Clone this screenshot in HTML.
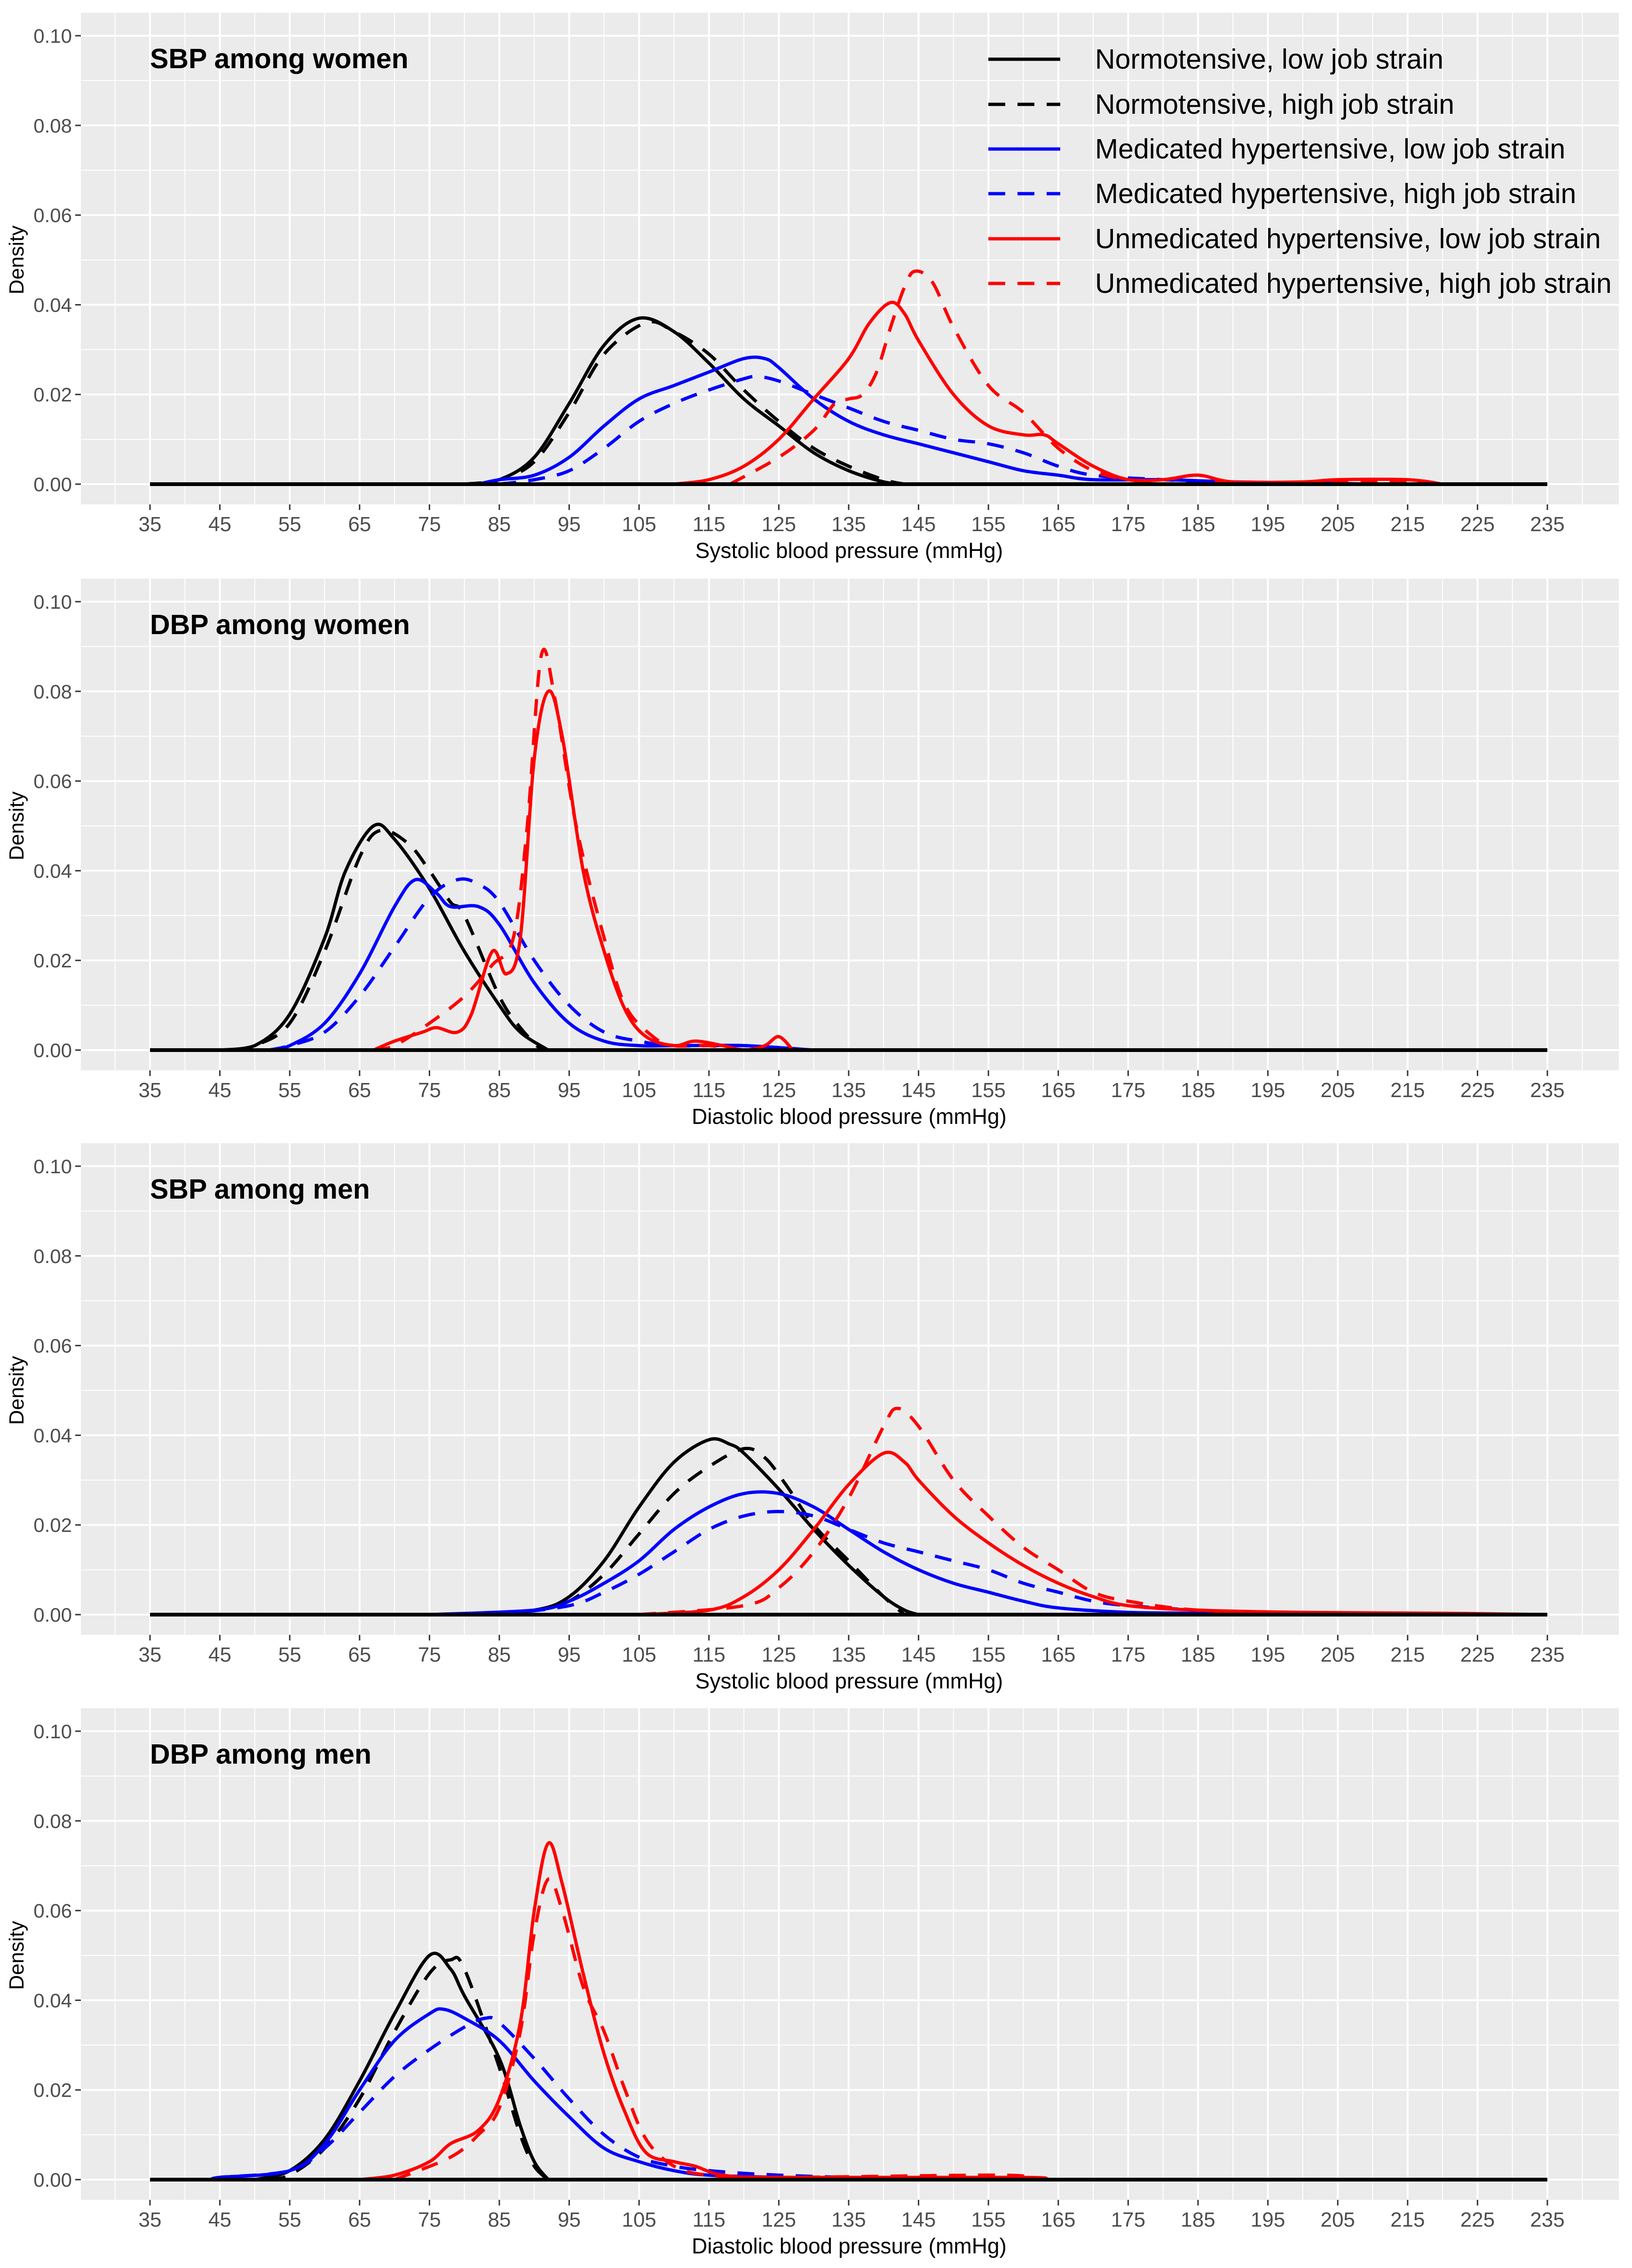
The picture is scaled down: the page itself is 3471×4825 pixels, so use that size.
<!DOCTYPE html>
<html><head><meta charset="utf-8">
<style>
html,body{margin:0;padding:0;background:#fff;}
svg{display:block;font-family:"Liberation Sans",sans-serif;}
</style></head>
<body>
<svg id="chart" width="3471" height="4825" viewBox="0 0 3471 4825" xmlns="http://www.w3.org/2000/svg"></svg>
<script>
// ---- data ----
const panelTitles = ["SBP among women","DBP among women","SBP among men","DBP among men"];
const xAxisTitles = ["Systolic blood pressure (mmHg)","Diastolic blood pressure (mmHg)","Systolic blood pressure (mmHg)","Diastolic blood pressure (mmHg)"];
const xTicks = [35,45,55,65,75,85,95,105,115,125,135,145,155,165,175,185,195,205,215,225,235];
const yTicks = [0,0.02,0.04,0.06,0.08,0.10];
const yTickLabels = ["0.00","0.02","0.04","0.06","0.08","0.10"];
const seriesNames = ["Normotensive, low job strain","Normotensive, high job strain","Medicated hypertensive, low job strain","Medicated hypertensive, high job strain","Unmedicated hypertensive, low job strain","Unmedicated hypertensive, high job strain"];

// Panel 1: SBP women  (each: [bp, density] pairs)
const p1NormLow = [[80,0],[85,0.001],[90,0.006],[95,0.018],[100,0.031],[105,0.037],[110,0.034],[115,0.027],[120,0.019],[125,0.013],[130,0.007],[135,0.003],[140,0.0005],[143,0]];
const p1NormHigh = [[80,0],[85,0.001],[90,0.005],[95,0.016],[100,0.029],[106,0.036],[110,0.034],[115,0.029],[120,0.021],[125,0.014],[130,0.008],[135,0.004],[140,0.001],[143,0]];
const p1MedLow = [[82,0],[85,0.001],[90,0.002],[95,0.006],[100,0.013],[105,0.019],[110,0.022],[115,0.025],[120,0.028],[123,0.028],[125,0.026],[130,0.019],[135,0.014],[140,0.011],[145,0.009],[150,0.007],[155,0.005],[160,0.003],[165,0.002],[170,0.001],[180,0.001],[190,0.0005],[200,0.0003],[210,0]];
const p1MedHigh = [[85,0],[90,0.001],[95,0.003],[100,0.008],[105,0.014],[110,0.018],[115,0.021],[120,0.0235],[122,0.024],[125,0.023],[130,0.02],[135,0.017],[140,0.014],[145,0.012],[150,0.01],[155,0.009],[160,0.007],[165,0.004],[170,0.002],[180,0.001],[190,0.0005],[200,0]];
const p1UnmedLow = [[110,0],[115,0.001],[120,0.004],[125,0.01],[130,0.019],[135,0.028],[138,0.036],[141,0.0405],[143,0.038],[145,0.032],[150,0.02],[155,0.013],[160,0.011],[163,0.011],[165,0.009],[170,0.004],[175,0.001],[180,0.001],[185,0.002],[190,0.0005],[200,0.0005],[205,0.001],[215,0.001],[220,0]];
const p1UnmedHigh = [[118,0],[125,0.006],[130,0.012],[133,0.018],[135,0.019],[137,0.02],[139,0.025],[141,0.035],[143,0.044],[144.5,0.0475],[147,0.045],[150,0.035],[155,0.022],[160,0.016],[165,0.008],[170,0.003],[175,0.001],[180,0.001],[185,0.002],[190,0.0005],[210,0.0005],[222,0]];

// Panel 2: DBP women
const p2NormLow = [[45,0],[50,0.001],[55,0.008],[60,0.025],[63,0.040],[67,0.050],[70,0.047],[75,0.036],[80,0.022],[85,0.010],[88,0.004],[92,0]];
const p2NormHigh = [[47,0],[50,0.001],[55,0.006],[60,0.022],[65,0.043],[68,0.049],[72,0.046],[75,0.040],[78,0.033],[80,0.030],[85,0.012],[88,0.005],[91,0]];
const p2MedLow = [[52,0],[55,0.001],[60,0.006],[65,0.017],[70,0.032],[73,0.038],[76,0.035],[78,0.032],[82,0.032],[85,0.028],[90,0.015],[95,0.006],[100,0.002],[105,0.001],[110,0.001],[120,0.001],[130,0]];
const p2MedHigh = [[52,0],[55,0.001],[60,0.004],[65,0.012],[70,0.023],[75,0.034],[79,0.038],[82,0.037],[85,0.033],[90,0.02],[95,0.01],[100,0.004],[105,0.002],[110,0.001],[120,0.001],[128,0]];
const p2UnmedLow = [[67,0],[70,0.002],[74,0.004],[76,0.005],[79,0.004],[81,0.008],[84,0.022],[86,0.017],[88,0.025],[90,0.065],[92,0.080],[94,0.07],[97,0.04],[100,0.022],[103,0.009],[106,0.003],[110,0.001],[113,0.002],[117,0.001],[120,0],[123,0.001],[125,0.003],[127,0]];
const p2UnmedHigh = [[67,0],[70,0.001],[75,0.006],[80,0.012],[84,0.019],[87,0.025],[89,0.05],[91,0.088],[93,0.078],[96,0.05],[100,0.025],[103,0.01],[107,0.003],[110,0.001],[115,0.001],[120,0]];

// Panel 3: SBP men
const p3NormLow = [[80,0],[90,0.001],[95,0.004],[100,0.012],[105,0.024],[110,0.034],[115,0.039],[118,0.038],[120,0.036],[125,0.028],[130,0.019],[135,0.011],[140,0.004],[143,0.001],[145,0]];
const p3NormHigh = [[82,0],[90,0.001],[95,0.003],[100,0.009],[105,0.018],[110,0.027],[115,0.033],[120,0.037],[123,0.035],[126,0.029],[130,0.02],[135,0.012],[140,0.004],[143,0]];
const p3MedLow = [[75,0],[90,0.001],[95,0.003],[100,0.007],[105,0.012],[110,0.019],[115,0.024],[120,0.027],[125,0.027],[130,0.024],[135,0.019],[140,0.014],[145,0.010],[150,0.007],[155,0.005],[160,0.003],[165,0.0015],[175,0.0005],[185,0.0003],[200,0]];
const p3MedHigh = [[85,0],[95,0.002],[100,0.005],[105,0.009],[110,0.014],[115,0.019],[120,0.022],[125,0.023],[130,0.022],[135,0.019],[140,0.016],[145,0.014],[150,0.012],[155,0.01],[160,0.007],[165,0.005],[170,0.003],[175,0.002],[185,0.001],[195,0.0005],[215,0]];
const p3UnmedLow = [[105,0],[115,0.001],[120,0.004],[125,0.01],[130,0.019],[135,0.029],[140,0.036],[143,0.034],[145,0.03],[150,0.022],[155,0.016],[160,0.011],[165,0.007],[170,0.004],[175,0.002],[185,0.001],[200,0.0005],[220,0.0003],[235,0]];
const p3UnmedHigh = [[105,0],[120,0.002],[125,0.006],[130,0.014],[135,0.026],[140,0.042],[142,0.046],[145,0.042],[150,0.03],[155,0.022],[160,0.015],[165,0.01],[170,0.005],[175,0.003],[185,0.001],[200,0.0005],[235,0]];

// Panel 4: DBP men
const p4NormLow = [[50,0],[55,0.002],[60,0.009],[65,0.022],[70,0.037],[75,0.050],[78,0.047],[80,0.041],[85,0.027],[88,0.012],[90,0.004],[92,0]];
const p4NormHigh = [[52,0],[55,0.001],[60,0.007],[65,0.018],[70,0.033],[75,0.046],[78,0.049],[80,0.047],[85,0.025],[88,0.01],[90,0.003],[92,0]];
const p4MedLow = [[44,0],[45,0.0005],[55,0.002],[60,0.008],[65,0.02],[70,0.031],[75,0.037],[77,0.038],[80,0.036],[85,0.031],[90,0.022],[95,0.014],[100,0.007],[105,0.004],[110,0.002],[115,0.001],[125,0.0005],[140,0]];
const p4MedHigh = [[44,0],[45,0.0005],[55,0.002],[60,0.007],[65,0.015],[70,0.023],[75,0.029],[80,0.034],[83,0.036],[85,0.035],[90,0.027],[95,0.018],[100,0.01],[105,0.005],[110,0.003],[115,0.002],[125,0.001],[145,0]];
const p4UnmedLow = [[65,0],[70,0.001],[75,0.004],[78,0.008],[82,0.011],[85,0.018],[88,0.035],[90,0.060],[92,0.075],[94,0.066],[97,0.046],[100,0.028],[103,0.015],[106,0.006],[110,0.004],[113,0.003],[117,0.001],[125,0.0005],[160,0.0005],[162,0]];
const p4UnmedHigh = [[70,0],[78,0.005],[82,0.01],[85,0.016],[88,0.033],[90,0.055],[92,0.067],[94,0.06],[97,0.043],[100,0.033],[103,0.02],[106,0.009],[110,0.003],[115,0.001],[125,0.0005],[157,0.001],[160,0]];

const panelSeries = [
  [p1NormLow,p1NormHigh,p1MedLow,p1MedHigh,p1UnmedLow,p1UnmedHigh],
  [p2NormLow,p2NormHigh,p2MedLow,p2MedHigh,p2UnmedLow,p2UnmedHigh],
  [p3NormLow,p3NormHigh,p3MedLow,p3MedHigh,p3UnmedLow,p3UnmedHigh],
  [p4NormLow,p4NormHigh,p4MedLow,p4MedHigh,p4UnmedLow,p4UnmedHigh]
];

// ---- styling / layout ----
const colors = ["#000000","#000000","#0000ff","#0000ff","#ff0000","#ff0000"];
const dashed = [false,true,false,true,false,true];
const zeroY = [1030,2234,3435,4637];
const YPX = 9540;
const NS = "http://www.w3.org/2000/svg";
const svg = document.getElementById("chart");

function sx(v){ return 319 + (v-35)*14.86; }
function sy(p,d){ return zeroY[p] - d*YPX; }
function mk(tag, attrs, parent){
  const e = document.createElementNS(NS, tag);
  for (const k in attrs) e.setAttribute(k, attrs[k]);
  (parent||svg).appendChild(e);
  return e;
}
function smoothPath(p, pts){
  const P = pts.map(q=>[sx(q[0]), sy(p,q[1])]);
  let d = "M"+P[0][0].toFixed(1)+","+P[0][1].toFixed(1);
  for (let i=0;i<P.length-1;i++){
    const p0=P[Math.max(0,i-1)], p1=P[i], p2=P[i+1], p3=P[Math.min(P.length-1,i+2)];
    const c1=[p1[0]+(p2[0]-p0[0])/6, p1[1]+(p2[1]-p0[1])/6];
    const c2=[p2[0]-(p3[0]-p1[0])/6, p2[1]-(p3[1]-p1[1])/6];
    const base = zeroY[p];
    d += " C"+c1[0].toFixed(1)+","+Math.min(base,c1[1]).toFixed(1)+" "+c2[0].toFixed(1)+","+Math.min(base,c2[1]).toFixed(1)+" "+p2[0].toFixed(1)+","+p2[1].toFixed(1);
  }
  return d;
}

for (let p=0;p<4;p++){
  const g = mk("g",{});
  
  
  const top = zeroY[p]-1003, bottom = zeroY[p]+43;
  const bg = mk("rect",{x:172,y:top,width:3271,height:bottom-top,fill:"#ebebeb"},g);
  
  
  for (let v=30; v<=240; v+=10){
    const l = mk("line",{x1:sx(v),x2:sx(v),y1:top,y2:bottom,stroke:"#fff","stroke-width":2},g);
    
    
  }
  for (let v=0.01; v<0.1; v+=0.02){
    const l = mk("line",{x1:172,x2:3443,y1:sy(p,v),y2:sy(p,v),stroke:"#fff","stroke-width":2},g);
    
    
  }
  xTicks.forEach(v=>{
    const l = mk("line",{x1:sx(v),x2:sx(v),y1:top,y2:bottom,stroke:"#fff","stroke-width":4},g);
    
    
    const t = mk("line",{x1:sx(v),x2:sx(v),y1:bottom,y2:bottom+12,stroke:"#333","stroke-width":3},g);
    
    
    const tx = mk("text",{x:sx(v),y:bottom+57,"text-anchor":"middle","font-size":44,fill:"#4d4d4d"},g);
    
    
    tx.textContent = v;
  });
  yTicks.forEach((v,i)=>{
    const l = mk("line",{x1:172,x2:3443,y1:sy(p,v),y2:sy(p,v),stroke:"#fff","stroke-width":4},g);
    
    
    const t = mk("line",{x1:160,x2:172,y1:sy(p,v),y2:sy(p,v),stroke:"#333","stroke-width":3},g);
    
    
    const tx = mk("text",{x:153,y:sy(p,v)+15,"text-anchor":"end","font-size":42,fill:"#4d4d4d"},g);
    
    
    tx.textContent = yTickLabels[i];
  });
  panelSeries[p].forEach((pts,s)=>{
    const path = mk("path",{d:smoothPath(p,pts),fill:"none",stroke:colors[s],"stroke-width":7,"stroke-linejoin":"round"},g);
    if (dashed[s]) path.setAttribute("stroke-dasharray","36,26");
    
    
  });
  const base = mk("line",{x1:sx(35),x2:sx(235),y1:zeroY[p],y2:zeroY[p],stroke:"#000","stroke-width":8},g);
  
  
  const pt = mk("text",{x:319,y:zeroY[p]-885,"font-size":59,"font-weight":"bold",fill:"#000"},g);
  
  
  pt.textContent = panelTitles[p];
  const xt = mk("text",{x:1806,y:zeroY[p]+157,"text-anchor":"middle","font-size":46,fill:"#000"},g);
  
  
  xt.textContent = xAxisTitles[p];
  const yt = mk("text",{x:0,y:0,"text-anchor":"middle","font-size":44,fill:"#000",transform:"translate(50,"+(zeroY[p]-477)+") rotate(-90)"},g);
  
  
  yt.textContent = "Density";
}

const lg = mk("g",{});


const legendY = [126,222,317,412,508,603];
seriesNames.forEach((n,s)=>{
  const l = mk("line",{x1:2102,x2:2255,y1:legendY[s],y2:legendY[s],stroke:colors[s],"stroke-width":7},lg);
  if (dashed[s]) l.setAttribute("stroke-dasharray","36,26");
  
  
  const t = mk("text",{x:2329,y:legendY[s]+20,"font-size":59,fill:"#000"},lg);
  
  
  t.textContent = n;
});
</script>
</body></html>
